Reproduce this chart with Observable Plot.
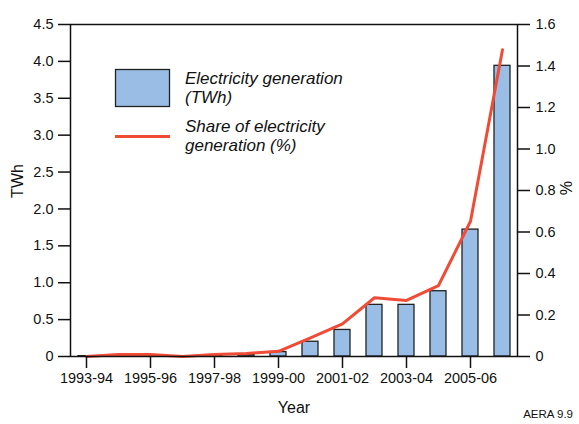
<!DOCTYPE html>
<html>
<head>
<meta charset="utf-8">
<script src="https://cdn.jsdelivr.net/npm/d3@7"></script>
<script src="https://cdn.jsdelivr.net/npm/@observablehq/plot@0.6"></script>
<style>
  html, body { margin: 0; padding: 0; background: #fff; }
  #chart svg { display: block; }
</style>
</head>
<body>
<div id="chart"></div>
<script>
// ---- data ----
const years = ["1993-94","1994-95","1995-96","1996-97","1997-98","1998-99","1999-00",
               "2000-01","2001-02","2002-03","2003-04","2004-05","2005-06","2006-07"];
const generationTWh = [0.005, 0.005, 0.005, 0.003, 0.008, 0.02, 0.06, 0.20, 0.36, 0.70, 0.70, 0.885, 1.72, 3.94];
const sharePct = [0.0, 0.01, 0.01, 0.0, 0.01, 0.015, 0.025, 0.09, 0.157, 0.283, 0.27, 0.342, 0.652, 1.478];
const xTickLabels = ["1993-94","1995-96","1997-98","1999-00","2001-02","2003-04","2005-06"];
const leftTicks = [0, 0.5, 1.0, 1.5, 2.0, 2.5, 3.0, 3.5, 4.0, 4.5];
const rightTicks = [0, 0.2, 0.4, 0.6, 0.8, 1.0, 1.2, 1.4, 1.6];
const leftMax = 4.5, rightMax = 1.6;
const legendLabels = [["Electricity generation", "(TWh)"], ["Share of electricity", "generation (%)"]];

const k = leftMax / rightMax;
const rows = years.map((y, i) => ({year: y, twh: generationTWh[i], share: sharePct[i] * k}));
const fmt = v => (Math.abs(v) < 1e-9 ? "0" : v.toFixed(1));

const FONT = "'Liberation Sans', Arial, Helvetica, sans-serif";
const BAR = "#99bde4", LINE = "#ef4b36";

const chart = Plot.plot({
  width: 579, height: 424,
  marginLeft: 70, marginRight: 62, marginTop: 24, marginBottom: 68,
  style: {fontFamily: FONT, fontSize: "14.5px", background: "#fff", color: "#111"},
  x: {domain: years, paddingInner: 0.5, paddingOuter: 0.2},
  y: {domain: [0, leftMax]},
  marks: [
    Plot.barY(rows, {x: "year", y: "twh", fill: BAR, stroke: "#222", strokeWidth: 1.3}),
    Plot.lineY(rows, {x: "year", y: "share", stroke: LINE, strokeWidth: 3, strokeLinejoin: "round"}),
    Plot.frame({stroke: "#111", strokeWidth: 1.5}),
    Plot.axisX({ticks: xTickLabels, tickSize: 12, tickPadding: 4, label: null, strokeWidth: 1.5, fontSize: 14.5}),
    Plot.axisY({ticks: leftTicks, tickSize: 12, tickPadding: 5, tickFormat: fmt, label: null, strokeWidth: 1.5}),
    Plot.axisY(rightTicks.map(v => v * k), {anchor: "right", tickSize: 12, tickPadding: 6,
      tickFormat: d => fmt(d / k), label: null, strokeWidth: 1.5})
  ]
});
document.getElementById("chart").appendChild(chart);

// ---- labels & legend ----
const svg = d3.select(chart);
const g = svg.append("g").attr("font-family", FONT).attr("fill", "#111");
g.append("text").attr("transform", "translate(23,181) rotate(-90)").attr("text-anchor", "middle")
  .attr("font-size", 16).text("TWh");
g.append("text").attr("transform", "translate(560,188) rotate(90)").attr("text-anchor", "middle")
  .attr("font-size", 16).text("%");
g.append("text").attr("x", 294).attr("y", 413).attr("text-anchor", "middle")
  .attr("font-size", 16).text("Year");
g.append("text").attr("x", 573).attr("y", 418).attr("text-anchor", "end")
  .attr("font-size", 11.5).text("AERA 9.9");

const lg = svg.append("g").attr("font-family", FONT).attr("font-style", "italic")
  .attr("font-size", 17).attr("fill", "#111").attr("text-anchor", "start");
lg.append("rect").attr("x", 115.5).attr("y", 69.5).attr("width", 54).attr("height", 37)
  .attr("fill", BAR).attr("stroke", "#222").attr("stroke-width", 1.3);
lg.append("line").attr("x1", 115).attr("x2", 170).attr("y1", 136.5).attr("y2", 136.5)
  .attr("stroke", LINE).attr("stroke-width", 3);
const baselines = [[84, 103], [132, 151]];
legendLabels.forEach((lines, i) => lines.forEach((t, j) =>
  lg.append("text").attr("x", 185).attr("y", baselines[i][j]).attr("text-anchor", "start").text(t)));
</script>
</body>
</html>
